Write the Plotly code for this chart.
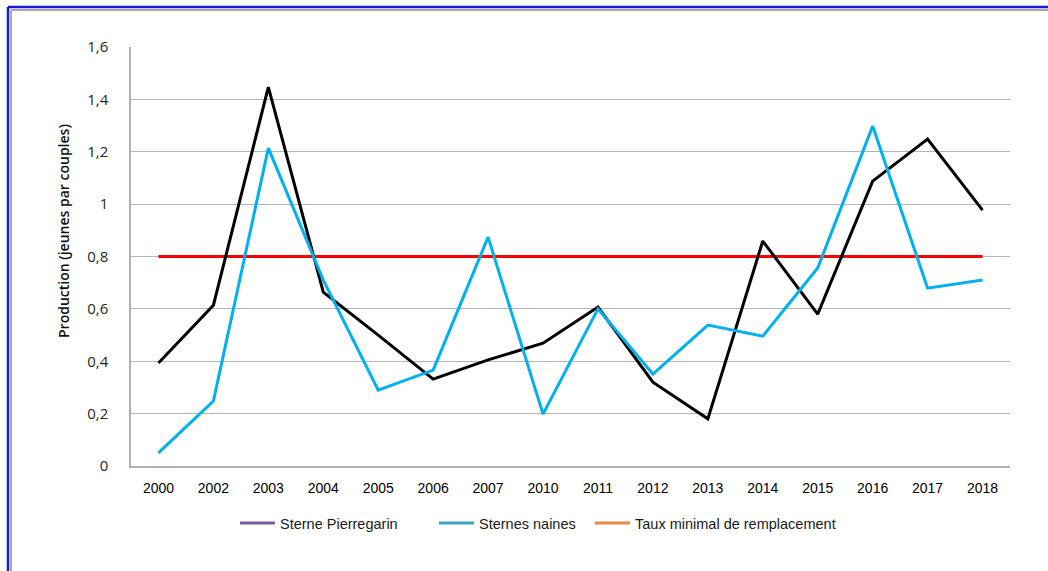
import plotly.graph_objects as go

years = ["2000", "2002", "2003", "2004", "2005", "2006", "2007", "2010",
         "2011", "2012", "2013", "2014", "2015", "2016", "2017", "2018"]
pierregarin = [0.393, 0.614, 1.447, 0.664, 0.50, 0.332, 0.405, 0.469,
               0.607, 0.32, 0.18, 0.859, 0.58, 1.088, 1.248, 0.977]
naines = [0.05, 0.248, 1.214, 0.71, 0.29, 0.366, 0.874, 0.198,
          0.60, 0.351, 0.538, 0.496, 0.756, 1.298, 0.679, 0.71]
taux = [0.8] * len(years)

legend_names = ["Sterne Pierregarin", "Sternes naines", "Taux minimal de remplacement"]
legend_colors = ["#7a5c9e", "#3fa2c2", "#ec8a3e"]

y_ticks = [0, 0.2, 0.4, 0.6, 0.8, 1.0, 1.2, 1.4, 1.6]
y_ticktext = ["0", "0,2", "0,4", "0,6", "0,8", "1", "1,2", "1,4", "1,6"]

W, H = 1048, 571
L, R, T, B = 131, 38, 47, 105
pw, ph = W - L - R, H - T - B

def px(x):
    return (x - L) / pw

def py(y):
    return (H - B - y) / ph

fig = go.Figure()
fig.add_trace(go.Scatter(x=years, y=taux, mode="lines", line=dict(color="#ff0000", width=3),
                         showlegend=False, hoverinfo="skip"))
fig.add_trace(go.Scatter(x=years, y=pierregarin, mode="lines", line=dict(color="#000000", width=3),
                         showlegend=False))
fig.add_trace(go.Scatter(x=years, y=naines, mode="lines", line=dict(color="#00b0f0", width=3),
                         showlegend=False))

legend_keys = ["legend", "legend2", "legend3"]
legend_x = [235, 434, 590]
for name, col, key in zip(legend_names, legend_colors, legend_keys):
    fig.add_trace(go.Scatter(x=[None], y=[None], mode="lines", name=name,
                             line=dict(color=col, width=3), legend=key, showlegend=True))

font_leg = dict(family="Liberation Sans, Arial", size=14.5, color="#1a1a1a")
leg_common = dict(orientation="h", yanchor="middle", y=py(523), xanchor="left",
                  bgcolor="rgba(0,0,0,0)", borderwidth=0, font=font_leg, itemwidth=35)

fig.update_layout(
    width=W, height=H,
    margin=dict(l=L, r=R, t=T, b=B, autoexpand=False),
    paper_bgcolor="white", plot_bgcolor="white",
    legend=dict(x=px(legend_x[0]), **leg_common),
    legend2=dict(x=px(legend_x[1]), **leg_common),
    legend3=dict(x=px(legend_x[2]), **leg_common),
    xaxis=dict(type="category", range=[-0.5, len(years) - 0.5], showgrid=False, showline=True,
               linecolor="#b0b0b0", linewidth=1.5,
               ticks="", tickfont=dict(family="Liberation Sans, Arial", size=14, color="#000000"),
               ticklabelstandoff=8, fixedrange=True),
    yaxis=dict(range=[0, 1.6], tickvals=y_ticks, ticktext=y_ticktext, showgrid=True,
               gridcolor="#b5b5b5", gridwidth=1.3, showline=True, linecolor="#b0b0b0", linewidth=1.5,
               zeroline=False, ticks="", ticklabelstandoff=18,
               tickfont=dict(family="Open Sans, Liberation Sans", size=15, color="#262626"),
               fixedrange=True),
    annotations=[dict(text="Production (jeunes par couples)", textangle=-90, showarrow=False,
                      xref="paper", yref="paper", x=px(63), y=py(231), xanchor="center", yanchor="middle",
                      font=dict(family="Open Sans, Liberation Sans", size=14, color="#111111", weight=600))],
    shapes=[
        dict(type="line", xref="paper", yref="paper", x0=px(8), x1=px(1048), y0=py(7), y1=py(7),
             line=dict(color="#1818d8", width=2.5)),
        dict(type="line", xref="paper", yref="paper", x0=px(11), x1=px(1048), y0=py(10), y1=py(10),
             line=dict(color="#a8a8a8", width=2)),
        dict(type="line", xref="paper", yref="paper", x0=px(8), x1=px(8), y0=py(7), y1=py(571),
             line=dict(color="#1818d8", width=2.5)),
        dict(type="line", xref="paper", yref="paper", x0=px(11), x1=px(11), y0=py(10), y1=py(571),
             line=dict(color="#a8a8a8", width=2)),
    ],
    showlegend=True,
)

fig.write_html("out.html", config={"displayModeBar": False},
               post_script="document.body.style.margin='0';document.body.style.overflow='hidden';")
